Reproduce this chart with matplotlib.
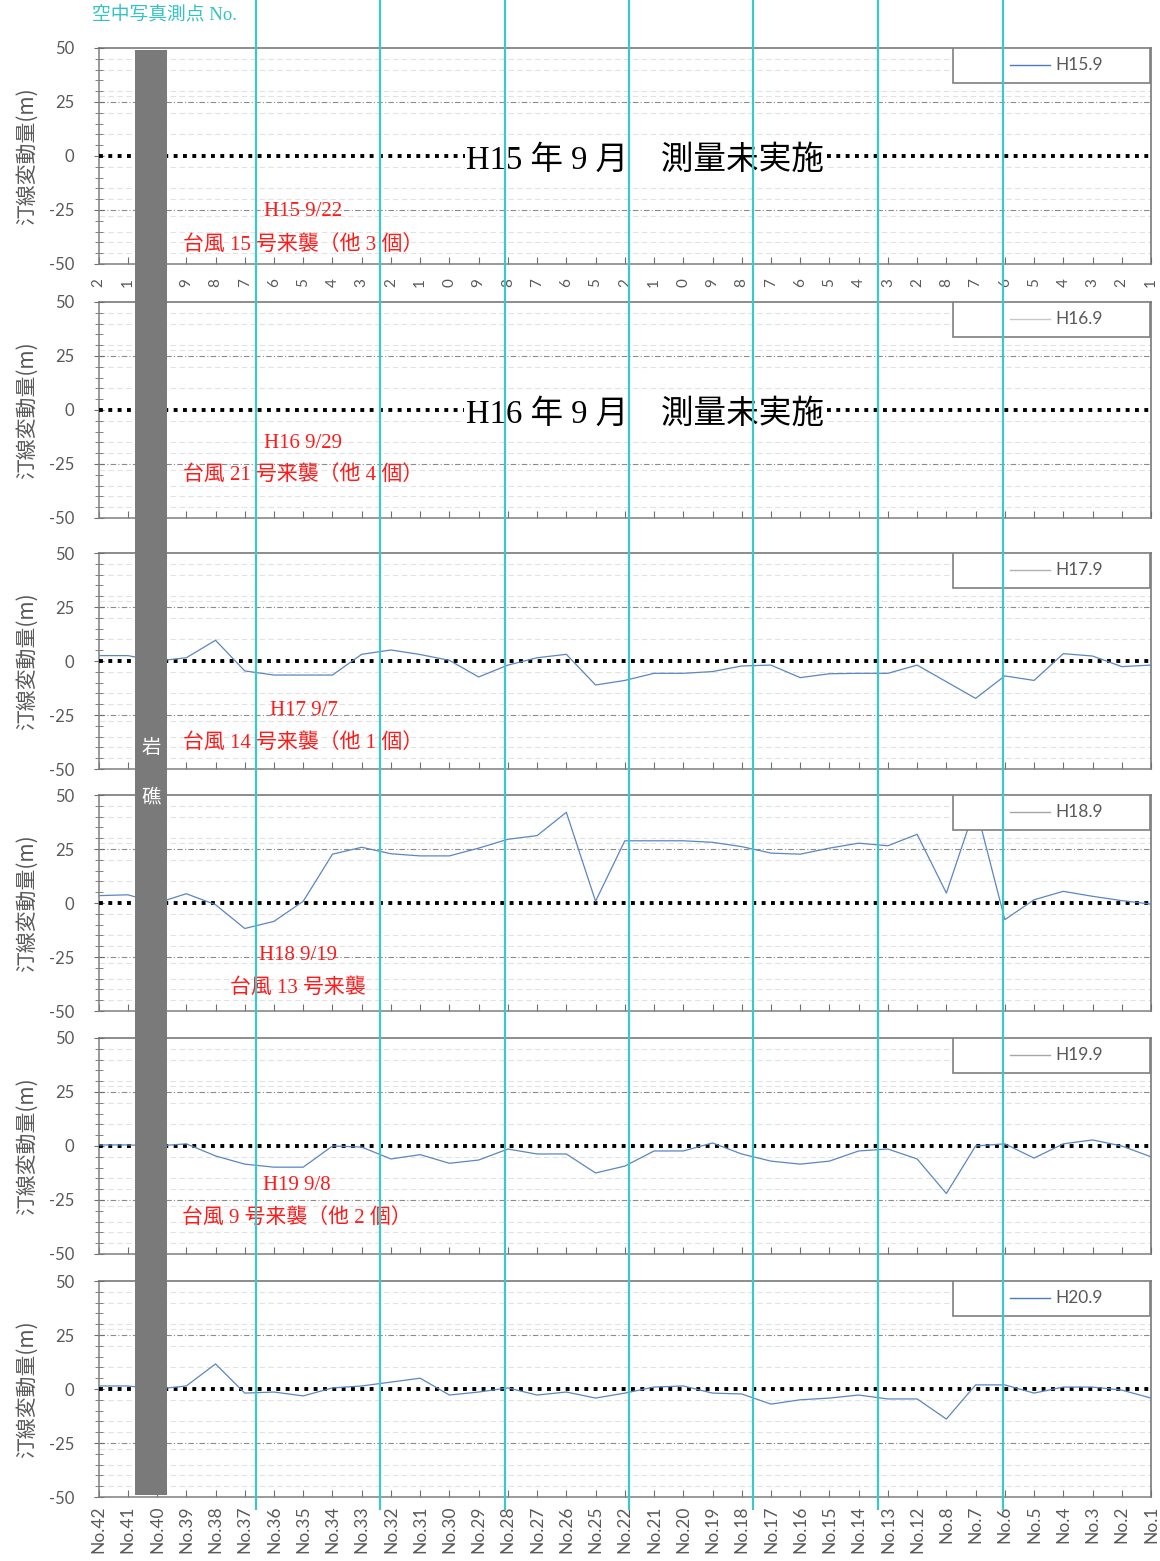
import numpy as np
import matplotlib.pyplot as plt
from matplotlib.patches import Rectangle
from matplotlib.lines import Line2D

# survey points along the coast (No.11-9 are not measured)
points = ['No.42', 'No.41', 'No.40', 'No.39', 'No.38', 'No.37', 'No.36', 'No.35', 'No.34',
          'No.33', 'No.32', 'No.31', 'No.30', 'No.29', 'No.28', 'No.27', 'No.26', 'No.25',
          'No.22', 'No.21', 'No.20', 'No.19', 'No.18', 'No.17', 'No.16', 'No.15', 'No.14',
          'No.13', 'No.12', 'No.8', 'No.7', 'No.6', 'No.5', 'No.4', 'No.3', 'No.2', 'No.1']

# shoreline change (m) per survey
h17 = [2.5, 2.5, 0.0, 1.5, 9.6, -4.6, -6.5, -6.5, -6.5, 3.1, 5.1, 3.0, 0.3, -7.4, -1.9, 1.5,
       3.1, -11.1, -9.0, -5.7, -5.7, -4.9, -2.3, -1.9, -7.7, -5.9, -5.7, -5.7, -1.9, -9.6,
       -17.3, -6.9, -9.0, 3.4, 2.3, -2.6, -1.9]
h18 = [3.4, 3.8, 0.0, 4.3, -0.8, -11.8, -8.5, 0.8, 22.6, 25.8, 22.8, 21.8, 21.8, 25.4, 29.5,
       31.2, 42.0, 0.8, 28.8, 28.8, 28.8, 28.1, 26.1, 23.1, 22.6, 25.4, 27.7, 26.5, 31.8, 4.6,
       45.0, -7.7, 1.5, 5.4, 3.1, 1.1, -0.5]
h19 = [0.5, 0.5, 0.0, 1.0, -4.6, -8.4, -9.8, -9.8, 0.0, -0.5, -6.0, -4.0, -8.0, -6.5, -1.4,
       -3.7, -3.7, -12.5, -9.3, -2.3, -2.3, 1.4, -3.7, -7.0, -8.4, -7.0, -2.3, -1.4, -6.0,
       -22.0, 0.0, 1.0, -5.6, 1.0, 2.8, 0.0, -5.0]
h20 = [1.4, 1.4, 0.0, 1.4, 11.6, -1.9, -1.4, -3.2, 0.5, 1.4, 3.2, 5.0, -2.8, -1.4, 0.5, -2.8,
       -1.4, -4.2, -1.9, 0.9, 1.4, -1.9, -2.3, -7.0, -5.0, -4.2, -2.8, -4.6, -4.6, -13.9,
       1.9, 1.9, -1.9, 0.9, 0.9, -0.5, -4.2]

years = ['H15.9', 'H16.9', 'H17.9', 'H18.9', 'H19.9', 'H20.9']
series = [None, None, h17, h18, h19, h20]
handle_colors = ['#4a7ebb', '#c8c8c8', '#b0b0b0', '#a6a6a6', '#a6a6a6', '#4a7ebb']
not_surveyed = ['H15 年 9 月　測量未実施', 'H16 年 9 月　測量未実施', None, None, None, None]
storm_dates = ['H15 9/22', 'H16 9/29', 'H17 9/7', 'H18 9/19', 'H19 9/8', None]
storm_names = ['台風 15 号来襲（他 3 個）', '台風 21 号来襲（他 4 個）', '台風 14 号来襲（他 1 個）',
               '台風 13 号来襲', '台風 9 号来襲（他 2 個）', None]
date_pos = [(0.157, 0.241), (0.157, 0.347), (0.163, 0.269), (0.152, 0.255), (0.156, 0.316)]
name_pos = [(0.080, 0.088), (0.080, 0.199), (0.080, 0.120), (0.125, 0.106), (0.079, 0.167)]

# aerial photo survey points, in the same x units as the points above
photo_pts = [5.38, 9.62, 13.89, 18.16, 22.40, 26.67, 30.94]

W, H = 1160, 1561
sans = ['Lato', 'DejaVu Sans']
jp = ['Noto Sans CJK JP', 'DejaVu Sans']
serif_jp = ['Liberation Serif', 'Noto Sans CJK JP']
grey = '#595959'
red = '#ff1a1a'

fig = plt.figure(figsize=(W / 100, H / 100), dpi=100)

left, right = 98.6, 1151
tops = [48, 302, 553, 795, 1038, 1281]
ph = 216
x = np.arange(len(points))

for k, top in enumerate(tops):
    ax = fig.add_axes([left / W, 1 - (top + ph) / H, (right - left) / W, ph / H])
    ax.set_xlim(0, len(points) - 1)
    ax.set_ylim(-50, 50)

    # faint background lines, +-25 reference and the zero line
    for v in [45, 40, 30, 28, 20, 10, -5, -15, -20, -28, -35, -40, -45]:
        ax.axhline(v, color='#e2e2e2', lw=0.8, ls=(0, (5, 3)), zorder=1)
    for v in [25, -25]:
        ax.axhline(v, color='#8c8c8c', lw=0.8, ls=(0, (5, 2, 1, 2)), zorder=1)
    ax.axhline(0, color='black', lw=2.8, ls=(0, (1.0, 1.4)), zorder=3)

    if series[k] is not None:
        ax.plot(x, series[k], color='#5b86c0', lw=0.9, zorder=4)

    if not_surveyed[k]:
        ax.text(0.519, 0.48, not_surveyed[k], transform=ax.transAxes, ha='center', va='center',
                fontsize=23.5, family=serif_jp, color='black', zorder=6,
                bbox=dict(fc='white', ec='none', pad=1))

    if storm_dates[k]:
        ax.text(*date_pos[k], storm_dates[k], transform=ax.transAxes, ha='left', va='center',
                fontsize=15, family=serif_jp, color=red, zorder=7)
        ax.text(*name_pos[k], storm_names[k], transform=ax.transAxes, ha='left', va='center',
                fontsize=15, family=serif_jp, color=red, zorder=7)

    # legend box in the upper right corner
    ax.add_patch(Rectangle((0.812, 0.838), 0.187, 0.162, transform=ax.transAxes,
                           fc='white', ec='#7f7f7f', lw=1.2, zorder=8))
    ax.add_line(Line2D([0.866, 0.904], [0.921, 0.921], transform=ax.transAxes,
                       color=handle_colors[k], lw=1.0, zorder=9))
    ax.text(0.909, 0.921, years[k], transform=ax.transAxes, ha='left', va='center',
            fontsize=12.5, family=sans, color=grey, zorder=9)

    for s in ['left', 'bottom']:
        ax.spines[s].set_color('#7f7f7f')
    for s in ['top', 'right']:
        ax.spines[s].set_color('#6e6e6e')
    for s in ax.spines.values():
        s.set_linewidth(1.1)

    ax.set_yticks([50, 25, 0, -25, -50])
    ax.set_yticklabels(['50', '25', '0', '-25', '-50'], family=sans, fontsize=12, color=grey)
    ax.set_yticks(np.arange(-45, 50, 5), minor=True)
    ax.tick_params(axis='y', which='major', direction='inout', length=7, color='#6e6e6e', pad=14)
    ax.tick_params(axis='y', which='minor', direction='inout', length=6, color='#6e6e6e')

    ax.set_xticks(x)
    ax.tick_params(axis='x', direction='in', length=5, color='#6e6e6e')
    if k == len(tops) - 1:
        ax.set_xticklabels(points, rotation=90, family=sans, fontsize=12.5, color=grey)
        ax.tick_params(axis='x', pad=6)
    else:
        ax.set_xticklabels([])

    if k == 0:
        # only the ends of the point labels show under the first panel
        for i, p in enumerate(points):
            ax.text(i, -0.088, p[-1], transform=ax.get_xaxis_transform(), rotation=90,
                    ha='center', va='center', fontsize=11, family=sans, color=grey)

    ax.set_ylabel('汀線変動量(m)', family=jp, fontsize=15, color=grey)
    ax.yaxis.set_label_coords(-0.058, 0.5)

# overlay: rock reef band and aerial photo survey lines across all panels
top_ov = 1510
ov = fig.add_axes([left / W, 1 - top_ov / H, (right - left) / W, top_ov / H])
ov.set_xlim(0, len(points) - 1)
ov.set_ylim(0, top_ov)
ov.axis('off')
ov.set_zorder(20)
ov.patch.set_alpha(0)
ov.axvspan(1.25, 2.33, ymin=(top_ov - 1495) / top_ov, ymax=(top_ov - 50) / top_ov,
           color='#7a7a7a', lw=0)
ov.text(1.79, top_ov - 748, '岩', ha='center', va='center', fontsize=14, family=jp,
        color='white')
ov.text(1.79, top_ov - 797, '礁', ha='center', va='center', fontsize=14, family=jp,
        color='white')
for p in photo_pts:
    ov.axvline(p, color='#3cc8c8', lw=1.6)

fig.text(92 / W, 1 - 15 / H, '空中写真測点 No.', ha='left', va='center', fontsize=13.5,
         family=serif_jp, color='#33c3c3')

fig.savefig('out.png', dpi=100)
